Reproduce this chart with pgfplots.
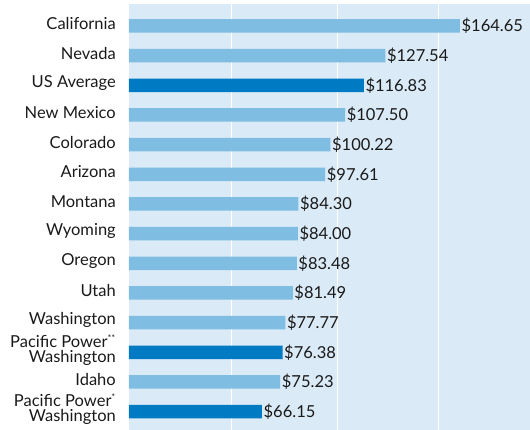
\documentclass[border=0pt]{standalone}
\usepackage{pgfplots}
\pgfplotsset{compat=1.18}
\usepackage{fontspec}
\setmainfont{Lato}
\definecolor{bgblue}{HTML}{DAEAF6}
\definecolor{lightbar}{HTML}{7FBEE2}
\definecolor{darkbar}{HTML}{007BC3}
\definecolor{txt}{HTML}{1A1A1A}
\begin{document}
\begin{tikzpicture}
\begin{axis}[
  at={(0,0)}, anchor=south west,
  scale only axis,
  width=401bp, height=426bp,
  xmin=0, xmax=199.5,
  ymin=-0.62, ymax=13.74,
  xbar, bar width=13.5bp, bar shift=0pt,
  axis background/.style={fill=bgblue},
  axis line style={draw=none},
  xtick={51,103.7,154}, xticklabels={},
  xmajorgrids, grid style={white, line width=1.3bp},
  major tick length=0pt,
  ytick={0,...,13},
  yticklabels={
    {Pacific Power\textsuperscript{\fontsize{9bp}{9bp}\selectfont *}\\Washington},
    Idaho,
    {Pacific Power\textsuperscript{\fontsize{9bp}{9bp}\selectfont **}\\Washington},
    Washington, Utah, Oregon, Wyoming, Montana, Arizona, Colorado,
    New Mexico, US Average, Nevada, California},
  yticklabel style={align=right, inner sep=0pt, xshift=-13bp, yshift=2.5bp,
    font=\fontsize{16.5bp}{15bp}\selectfont, text=txt},
  point meta=explicit symbolic,
  nodes near coords,
  nodes near coords style={anchor=west, inner sep=1.5bp,
    font=\fontsize{16.5bp}{16bp}\selectfont, text=txt},
]
\addplot[fill=lightbar, draw=none] coordinates {
  (164.65,13) [\$164.65]
  (127.54,12) [\$127.54]
  (107.50,10) [\$107.50]
  (100.22,9) [\$100.22]
  (97.61,8) [\$97.61]
  (84.30,7) [\$84.30]
  (84.00,6) [\$84.00]
  (83.48,5) [\$83.48]
  (81.49,4) [\$81.49]
  (77.77,3) [\$77.77]
  (75.23,1) [\$75.23]
};
\addplot[fill=darkbar, draw=none] coordinates {
  (116.83,11) [\$116.83]
  (76.38,2) [\$76.38]
  (66.15,0) [\$66.15]
};
\end{axis}
\pgfresetboundingbox
\path (-129bp,0) rectangle (401bp,430bp);
\end{tikzpicture}
\end{document}
